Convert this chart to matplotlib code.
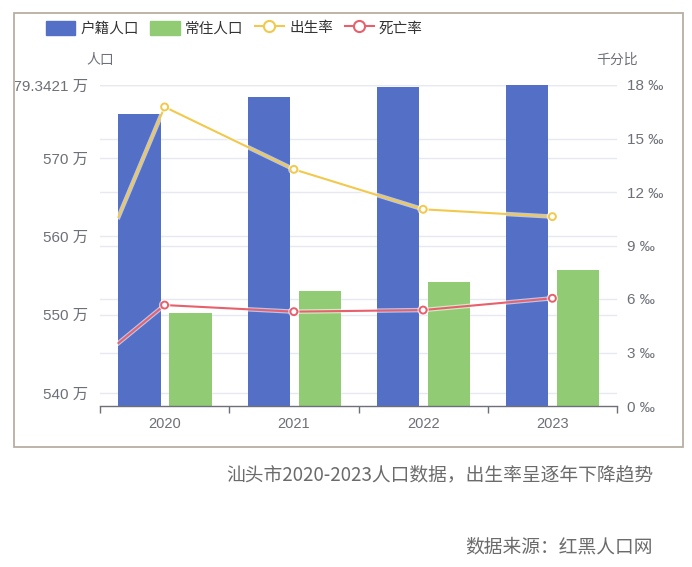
import matplotlib
matplotlib.use("Agg")
import matplotlib.pyplot as plt
import matplotlib.patheffects as pe
from matplotlib.patches import Patch, Rectangle
from matplotlib.lines import Line2D
from matplotlib.transforms import Bbox, TransformedBbox

plt.rcParams['font.family'] = ['Noto Sans CJK SC', 'DejaVu Sans']
tick_font = ['Liberation Sans', 'Noto Sans CJK SC', 'DejaVu Sans']

# 数据
years = ['2020', '2021', '2022', '2023']
huji = [575.7, 577.86, 579.06, 579.3421]      # 户籍人口（万）
changzhu = [550.2, 552.99, 554.14, 555.68]    # 常住人口（万）
birth_rate = [16.77, 13.27, 11.03, 10.62]     # 出生率（‰）
death_rate = [5.66, 5.29, 5.38, 6.04]         # 死亡率（‰）
birth_lead = 10.6   # 线条起点（第一根柱子左边缘处）
death_lead = 3.53

left_ticks = [540, 550, 560, 570, 579.3421]
left_min = 538.33
right_ticks = [0, 3, 6, 9, 12, 15, 18]

c_blue = '#5470c6'
c_green = '#91cc75'
c_yellow = '#f2c94c'
c_red = '#e8606c'
c_text = '#6e7079'
c_grid = '#e6e9f0'

W, H = 692, 567
fig = plt.figure(figsize=(W / 100, H / 100), dpi=100)
fig.patch.set_facecolor('white')

# 外框
frame = Rectangle((14 / W, 1 - 447 / H), 669 / W, 434 / H, transform=fig.transFigure,
                  fill=False, edgecolor='#b7afa3', linewidth=1.3)
fig.patches.append(frame)

ax = fig.add_axes([100 / W, 1 - 406 / H, 517 / W, 321 / H])
ax2 = ax.twinx()

x = list(range(len(years)))
bw = 0.326
off_b, off_g = -0.194, 0.2

ax.bar([i + off_b for i in x], huji, width=bw, color=c_blue, zorder=2)
ax.bar([i + off_g for i in x], changzhu, width=bw, color=c_green, zorder=2)

ax.set_xlim(-0.5, len(years) - 0.5)
ax.set_ylim(left_min, left_ticks[-1])
ax2.set_ylim(right_ticks[0], right_ticks[-1])

# 网格线（两个坐标轴各自的刻度）
for t in left_ticks:
    ax.axhline(t, color=c_grid, lw=1, zorder=0)
lo, hi = ax.get_ylim()
for t in right_ticks[1:]:
    ax.axhline(lo + (t - right_ticks[0]) / (right_ticks[-1] - right_ticks[0]) * (hi - lo),
               color=c_grid, lw=1, zorder=0)

# 折线
lead_x = x[0] + off_b - bw / 2
glow = [pe.Stroke(linewidth=3.2, foreground='white', alpha=0.6), pe.Normal()]
ax2.plot([lead_x] + x, [birth_lead] + birth_rate, color=c_yellow, lw=1.5,
         marker='o', markevery=[1, 2, 3, 4], ms=5, mfc='white', mec=c_yellow, mew=1.4,
         path_effects=glow, zorder=3)
ax2.plot([lead_x] + x, [death_lead] + death_rate, color=c_red, lw=1.5,
         marker='o', markevery=[1, 2, 3, 4], ms=5, mfc='white', mec=c_red, mew=1.4,
         path_effects=glow, zorder=3)

# 坐标轴样式
for a in (ax, ax2):
    for s in ('top', 'left', 'right', 'bottom'):
        a.spines[s].set_visible(False)
ax.spines['bottom'].set_visible(True)
ax.spines['bottom'].set_color(c_text)
ax.spines['bottom'].set_linewidth(1)

ax.set_xticks([i - 0.5 for i in range(len(years) + 1)])
ax.set_xticklabels([])
ax.tick_params(axis='x', which='major', length=5, color=c_text, width=1)
ax.set_xticks(x, minor=True)
ax.set_xticklabels(years, minor=True, family=tick_font)
ax.tick_params(axis='x', which='minor', length=0, pad=8, labelsize=10.5, labelcolor=c_text)


def fmt_left(t):
    return f'{t:.4f}'.rstrip('0').rstrip('.') + ' 万'


ax.set_yticks(left_ticks)
ax.set_yticklabels([fmt_left(t) for t in left_ticks], family=tick_font)
ax.tick_params(axis='y', length=0, pad=9, labelsize=11, labelcolor=c_text)
ax2.set_yticks(right_ticks)
ax2.set_yticklabels(['%d ‰' % t for t in right_ticks], family=tick_font)
ax2.tick_params(axis='y', length=0, pad=7, labelsize=11, labelcolor=c_text)

# 左侧最上方标签被外框裁切
clip = TransformedBbox(Bbox([[15 / W, 0], [1, 1]]), fig.transFigure)
for lab in ax.get_yticklabels():
    lab.set_clip_box(clip)
    lab.set_clip_on(True)

# 轴名称
fig.text(100 / W, 1 - 60 / H, '人口', ha='center', va='center', fontsize=10, color=c_text)
fig.text(617 / W, 1 - 60 / H, '千分比', ha='center', va='center', fontsize=10, color=c_text)

# 图例
handles = [
    Patch(facecolor=c_blue, edgecolor=c_blue),
    Patch(facecolor=c_green, edgecolor=c_green),
    Line2D([], [], color=c_yellow, lw=1.5, marker='o', ms=8, mfc='white', mec=c_yellow, mew=1.5),
    Line2D([], [], color=c_red, lw=1.5, marker='o', ms=8, mfc='white', mec=c_red, mew=1.5),
]
labels = ['户籍人口', '常住人口', '出生率', '死亡率']
fig.legend(handles, labels, loc='center left', bbox_to_anchor=(46 / W, 1 - 28 / H),
           ncol=4, frameon=False, fontsize=10.5, handlelength=2.0, handleheight=1.1,
           handletextpad=0.35, columnspacing=0.8, borderpad=0, borderaxespad=0,
           labelcolor='#333333')

# 说明文字
fig.text(653 / W, 1 - 475 / H, '汕头市2020-2023人口数据，出生率呈逐年下降趋势',
         ha='right', va='center', fontsize=13.5, color='#6b6b6b')
fig.text(653 / W, 1 - 547 / H, '数据来源：红黑人口网',
         ha='right', va='center', fontsize=13.5, color='#6b6b6b')

fig.savefig('out.png', dpi=100)
